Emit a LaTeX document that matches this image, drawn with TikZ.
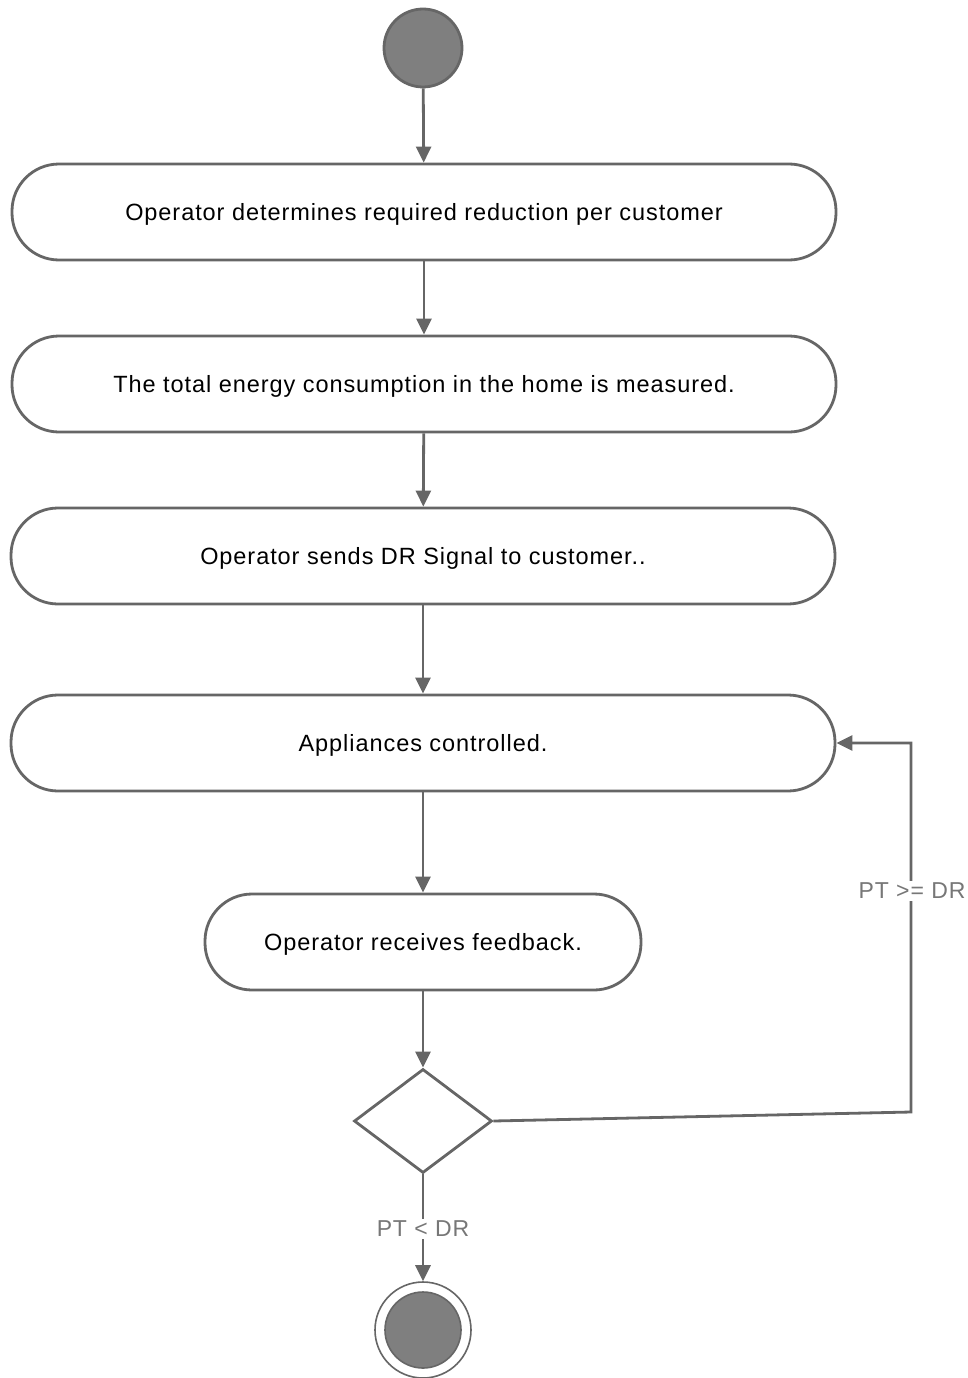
\documentclass[tikz,border=0pt]{standalone}
\usepackage{fontspec}
\setmainfont[LetterSpace=4]{Liberation Sans}
\usetikzlibrary{arrows.meta,shapes.geometric}
\definecolor{linegray}{HTML}{666666}
\definecolor{fillgray}{HTML}{7F7F7F}
\definecolor{labelgray}{HTML}{777777}
\begin{document}
\begin{tikzpicture}[x=1pt,y=-1pt,
  line width=2.8pt,
  flow/.style={draw=linegray,-{Triangle[length=16pt,width=15pt]}},
  activity/.style={draw=linegray,fill=white,rectangle,rounded corners=47pt,
    minimum height=96pt,inner sep=0pt,text depth=0pt,font=\fontsize{23.5}{27}\selectfont},
  guard/.style={fill=white,text=labelgray,inner sep=2pt,font=\fontsize{23}{27}\selectfont}
]
\useasboundingbox (0,0) rectangle (968,1378);
% initial node
\node[circle,draw=linegray,fill=fillgray,minimum size=78pt,inner sep=0pt] (start) at (423,48) {};
% activities
\node[activity,minimum width=824pt] (a1) at (424,212) {Operator determines required reduction per customer};
\node[activity,minimum width=824pt] (a2) at (424,384) {The total energy consumption in the home is measured.};
\node[activity,minimum width=824pt] (a3) at (423,556) {Operator sends DR Signal to customer..};
\node[activity,minimum width=824pt] (a4) at (423,743) {Appliances controlled.};
\node[activity,minimum width=436pt] (a5) at (423,942) {Operator receives feedback.};
% decision
\node[diamond,draw=linegray,fill=white,minimum width=138pt,minimum height=104pt,inner sep=0pt] (dec) at (423,1121) {};
% final node
\node[circle,draw=linegray,line width=1.6pt,fill=white,minimum size=96pt,inner sep=0pt] (final) at (423,1330) {};
\node[circle,draw=linegray,line width=1.6pt,fill=fillgray,minimum size=76pt,inner sep=0pt] (finalin) at (423,1330) {};
\coordinate (loopB) at (911,1112);
% flows
\draw[flow] (start) -- (a1);
\draw[flow] (a1) -- (a2);
\draw[flow] (a2) -- (a3);
\draw[flow] (a3) -- (a4);
\draw[flow] (a4) -- (a5);
\draw[flow] (a5) -- (dec);
\draw[flow,line join=miter] (dec.east) -- (loopB) |- (a4.east);
\draw[flow] (dec.south) -- (final.north);
% guards
\node[guard] (g1) at (912,891) {PT >= DR};
\node[guard] (g2) at (423,1229) {PT < DR};
\end{tikzpicture}
\end{document}
